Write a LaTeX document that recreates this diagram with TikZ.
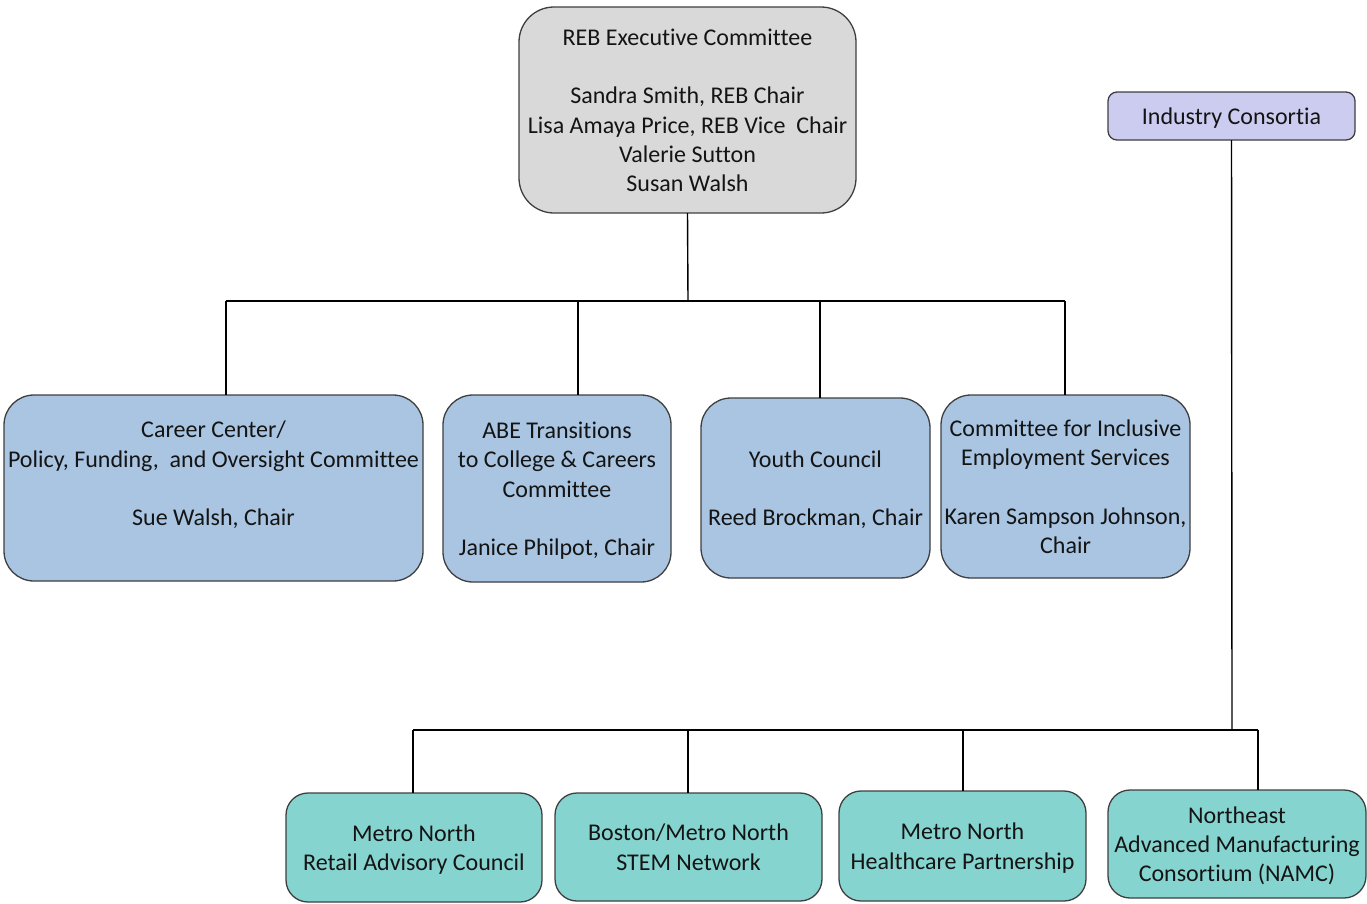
\documentclass[tikz,border=0pt]{standalone}
\usepackage{fontspec}
\setmainfont{Carlito}[Ligatures={NoCommon}]
\definecolor{bordc}{HTML}{3F3F3F}
\definecolor{grayf}{HTML}{D9D9D9}
\definecolor{lavf}{HTML}{CCCCF0}
\definecolor{bluef}{HTML}{A9C5E2}
\definecolor{tealf}{HTML}{86D4CF}
\definecolor{txt}{HTML}{141414}
\newcommand{\tstr}{\rule{0pt}{23pt}}
\newcommand{\bstr}{\rule[-6pt]{0pt}{6pt}}
\begin{document}
\begin{tikzpicture}[x=1pt,y=-1pt,
  box/.style={draw=bordc, line width=1.3pt, inner sep=0pt, outer sep=0pt, align=center,
    text=txt, font=\fontsize{24}{29.3}\selectfont},
  conn/.style={draw=black, line width=1.4pt}]
\useasboundingbox (0,0) rectangle (1367,903);
% top
\node[box, fill=grayf, rounded corners=35pt, minimum width=337pt, minimum height=206pt] (reb) at (687.5,110)
  {\tstr REB Executive Committee\\[29.3pt]Sandra Smith, REB Chair\\Lisa Amaya Price, REB Vice\ \ Chair\\Valerie Sutton\\Susan Walsh\bstr};
\node[box, fill=lavf, rounded corners=9pt, minimum width=247pt, minimum height=48pt] (ind) at (1231.5,116)
  {\tstr Industry Consortia\bstr};
% middle row
\node[box, fill=bluef, rounded corners=30pt, minimum width=419pt, minimum height=186pt] (career) at (213.5,488)
  {\tstr Career Center/\\Policy, Funding,\ \ and Oversight Committee\\[29.3pt]Sue Walsh, Chair\\ ~\bstr};
\node[box, fill=bluef, rounded corners=30pt, minimum width=228pt, minimum height=187pt] (abe) at (557,488.5)
  {\tstr ABE Transitions\\to College \& Careers\\Committee\\[29.3pt]Janice Philpot, Chair\bstr};
\node[box, fill=bluef, rounded corners=30pt, minimum width=229pt, minimum height=180pt] (youth) at (815.5,488)
  {\tstr Youth Council\\[29.3pt]Reed Brockman, Chair\bstr};
\node[box, fill=bluef, rounded corners=30pt, minimum width=249pt, minimum height=183pt] (cies) at (1065.5,486.5)
  {\tstr Committee for Inclusive\\Employment Services\\[29.3pt]Karen Sampson Johnson,\\Chair\bstr};
% bottom row
\node[box, fill=tealf, rounded corners=22pt, minimum width=256pt, minimum height=109pt] (retail) at (414,847.5)
  {\tstr Metro North\\Retail Advisory Council\bstr};
\node[box, fill=tealf, rounded corners=22pt, minimum width=267pt, minimum height=108pt] (stem) at (688.5,847)
  {\tstr Boston/Metro North\\STEM Network\bstr};
\node[box, fill=tealf, rounded corners=22pt, minimum width=247pt, minimum height=110pt] (health) at (962.5,846)
  {\tstr Metro North\\Healthcare Partnership\bstr};
\node[box, fill=tealf, rounded corners=22pt, minimum width=258pt, minimum height=108pt] (namc) at (1237,844)
  {\tstr Northeast\\Advanced Manufacturing\\Consortium (NAMC)\bstr};
% connectors top
\coordinate (j1) at (688,301);
\coordinate (b1) at (226,301);
\coordinate (b2) at (578,301);
\coordinate (b3) at (820,301);
\coordinate (b4) at (1065,301);
\draw[conn] (reb.south) -- (j1);
\draw[conn] (b1) -- (b4);
\draw[conn] (b1) -- (b1 |- career.north);
\draw[conn] (b2) -- (b2 |- abe.north);
\draw[conn] (b3) -- (b3 |- youth.north);
\draw[conn] (b4) -- (b4 |- cies.north);
% connectors bottom
\coordinate (j2) at (1232,730);
\coordinate (c1) at (413,730);
\coordinate (c2) at (688,730);
\coordinate (c3) at (963,730);
\coordinate (c4) at (1258,730);
\draw[conn] (ind.south) -- (j2);
\draw[conn] (c1) -- (c4);
\draw[conn] (c1) -- (c1 |- retail.north);
\draw[conn] (c2) -- (c2 |- stem.north);
\draw[conn] (c3) -- (c3 |- health.north);
\draw[conn] (c4) -- (c4 |- namc.north);
\end{tikzpicture}
\end{document}
